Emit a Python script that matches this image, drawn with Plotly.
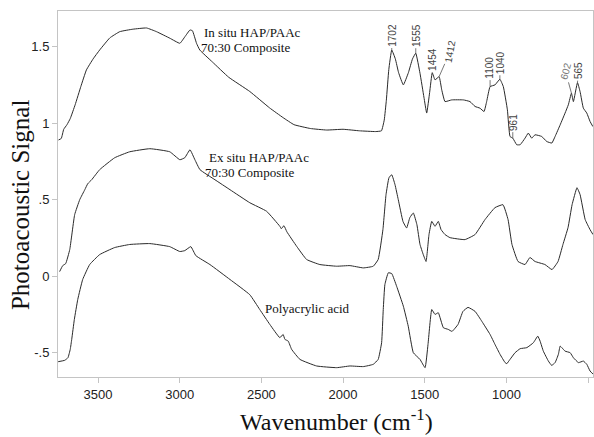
import plotly.graph_objects as go

# Photoacoustic FTIR spectra, offset vertically for clarity
wn_insitu = [3742, 3725, 3710, 3690, 3670, 3640, 3605, 3571, 3530, 3490, 3428, 3367, 3287, 3203,
             3142, 3060, 2999, 2968, 2937, 2922, 2897, 2877, 2800, 2700, 2571, 2450, 2367, 2300,
             2200, 2100, 2000, 1900, 1800, 1765, 1748, 1735, 1720, 1702, 1680, 1660, 1631, 1600,
             1575, 1555, 1529, 1505, 1488, 1470, 1454, 1437, 1412, 1396, 1376, 1335, 1264, 1223,
             1192, 1162, 1137, 1121, 1100, 1070, 1040, 1019, 994, 978, 961, 937, 916, 886, 866,
             845, 825, 784, 753, 722, 702, 671, 641, 621, 602, 590, 565, 549, 529, 508, 488, 471]
sig_insitu = [0.89, 0.90, 0.96, 0.99, 1.03, 1.12, 1.24, 1.348, 1.42, 1.478, 1.557, 1.598, 1.614, 1.622,
              1.598, 1.555, 1.522, 1.565, 1.609, 1.604, 1.522, 1.478, 1.40, 1.30, 1.207, 1.10, 1.036, 0.99,
              0.965, 0.955, 0.96, 0.95, 0.945, 0.95, 1.02, 1.15, 1.35, 1.478, 1.42, 1.33, 1.25, 1.33,
              1.42, 1.457, 1.326, 1.17, 1.066, 1.2, 1.33, 1.283, 1.304, 1.218, 1.141, 1.152, 1.152, 1.141,
              1.109, 1.098, 1.076, 1.141, 1.239, 1.250, 1.287, 1.239, 1.087, 0.913, 0.902, 0.859, 0.859, 0.902, 0.935,
              0.902, 0.924, 0.913, 0.880, 0.870, 0.913, 0.989, 1.066, 1.120, 1.196, 1.141, 1.265, 1.206, 1.098, 1.066, 1.011, 0.978]

wn_exsitu = [3735, 3716, 3698, 3673, 3643, 3612, 3581, 3563, 3539, 3490, 3398, 3306, 3183, 3061,
             2999, 2969, 2937, 2907, 2876, 2784, 2692, 2571, 2468, 2387, 2378, 2362, 2344, 2284,
             2223, 2142, 2039, 1958, 1876, 1815, 1785, 1756, 1737, 1719, 1702, 1682, 1662, 1633,
             1611, 1591, 1570, 1548, 1529, 1509, 1492, 1474, 1457, 1437, 1417, 1400, 1376, 1346,
             1254, 1192, 1131, 1070, 1021, 990, 966, 929, 886, 856, 825, 764, 721, 684, 654, 623,
             598, 568, 549, 518, 488, 470]
sig_exsitu = [0.030, 0.069, 0.082, 0.174, 0.402, 0.500, 0.565, 0.604, 0.630, 0.696, 0.774, 0.813, 0.833, 0.813,
              0.761, 0.774, 0.826, 0.761, 0.696, 0.630, 0.565, 0.480, 0.424, 0.326, 0.31, 0.33, 0.29, 0.195,
              0.109, 0.076, 0.065, 0.069, 0.054, 0.065, 0.109, 0.304, 0.533, 0.643, 0.663, 0.598, 0.500, 0.357,
              0.315, 0.383, 0.413, 0.337, 0.207, 0.141, 0.096, 0.272, 0.358, 0.326, 0.358, 0.304, 0.272, 0.252,
              0.239, 0.272, 0.370, 0.448, 0.467, 0.370, 0.207, 0.096, 0.076, 0.122, 0.096, 0.076, 0.043, 0.096, 0.207, 0.317,
              0.467, 0.578, 0.533, 0.370, 0.304, 0.272]

wn_paa = [3744, 3704, 3684, 3670, 3661, 3645, 3624, 3594, 3551, 3490, 3398, 3306, 3183, 3061,
          2999, 2969, 2932, 2901, 2815, 2692, 2571, 2510, 2448, 2387, 2367, 2356, 2336, 2315,
          2264, 2162, 2039, 1958, 1876, 1815, 1785, 1764, 1754, 1744, 1723, 1702, 1672, 1631,
          1601, 1570, 1529, 1498, 1480, 1457, 1437, 1417, 1386, 1356, 1333, 1296, 1266, 1235,
          1192, 1150, 1100, 1070, 1039, 1008, 998, 978, 947, 916, 875, 835, 808, 794, 774, 743,
          723, 702, 682, 671, 661, 641, 610, 590, 559, 529, 508, 488, 468]
sig_paa = [-0.559, -0.550, -0.533, -0.478, -0.413, -0.283, -0.152, -0.022, 0.076, 0.141, 0.187, 0.207, 0.213, 0.193,
           0.161, 0.167, 0.193, 0.134, 0.076, -0.022, -0.121, -0.218, -0.316, -0.402, -0.381, -0.413, -0.424, -0.478,
           -0.544, -0.587, -0.598, -0.587, -0.591, -0.576, -0.544, -0.435, -0.218, -0.055, 0.022, 0.017, -0.066, -0.196,
           -0.327, -0.500, -0.544, -0.598, -0.446, -0.218, -0.250, -0.239, -0.337, -0.348, -0.361, -0.315, -0.230, -0.204,
           -0.230, -0.296, -0.381, -0.446, -0.511, -0.565, -0.572, -0.544, -0.500, -0.474, -0.467, -0.435, -0.392, -0.424, -0.490, -0.555,
           -0.583, -0.565, -0.511, -0.457, -0.467, -0.490, -0.500, -0.533, -0.565, -0.555, -0.576, -0.620, -0.642]

# Band assignments marked on the in situ composite spectrum
peak_labels = ["1702", "1555", "1454", "1412", "1100", "1040", "961", "602", "565"]
peak_wn = [1702, 1555, 1454, 1412, 1100, 1040, 961, 602, 565]

x_ticks = [3500, 3000, 2500, 2000, 1500, 1000, 500]
y_ticks = [-0.5, 0, 0.5, 1, 1.5]
y_tick_text = ["-.5", "0", ".5", "1", "1.5"]

LINE = "#2a2a2a"
FRAME = "#c4c4c4"
SERIF = "Liberation Serif, Times New Roman, serif"
SANS = "Liberation Sans, Arial, sans-serif"

fig = go.Figure()
for wn, sig in [(wn_insitu, sig_insitu), (wn_exsitu, sig_exsitu), (wn_paa, sig_paa)]:
    fig.add_trace(go.Scatter(x=wn, y=sig, mode="lines",
                             line=dict(color=LINE, width=1, shape="spline", smoothing=0.35),
                             hoverinfo="skip", showlegend=False))

# label offsets (pixels) from each band to its text
label_style = {
    "1702": dict(ax=0, ay=-15, angle=-90),
    "1555": dict(ax=0, ay=-18, angle=-90),
    "1454": dict(ax=0, ay=-13, angle=-90),
    "1412": dict(ax=11, ay=-25, angle=-80),
    "1100": dict(ax=0, ay=-19, angle=-90),
    "1040": dict(ax=0, ay=-17, angle=-90),
    "961": dict(ax=0, ay=-16, angle=-90),
    "602": dict(ax=-6, ay=-22, angle=-75),
    "565": dict(ax=1, ay=-12, angle=-90),
}
for lab, w in zip(peak_labels, peak_wn):
    s = label_style[lab]
    yv = sig_insitu[wn_insitu.index(w)]
    fig.add_annotation(x=w, y=yv, xref="x", yref="y", text=lab, textangle=s["angle"],
                       showarrow=True, arrowhead=0, arrowwidth=0.8, arrowcolor="#555",
                       ax=s["ax"], ay=s["ay"], standoff=0,
                       font=dict(family=SANS, size=10, color="#444" if lab != "602" else "#777"))

# series names
for txt, xx, yy in [("In situ HAP/PAAc", 2865, 1.595), ("70:30 Composite", 2880, 1.495),
                    ("Ex situ HAP/PAAc", 2830, 0.775), ("70:30 Composite", 2860, 0.675),
                    ("Polyacrylic acid", 2490, -0.21)]:
    fig.add_annotation(x=xx, y=yy, xref="x", yref="y", text=txt, showarrow=False,
                       xanchor="left", yanchor="middle",
                       font=dict(family=SERIF, size=13, color="#111"))

# axis titles
fig.add_annotation(x=-0.069, y=0.47, xref="paper", yref="paper", text="Photoacoustic Signal",
                   textangle=-90, showarrow=False, xanchor="center", yanchor="middle",
                   font=dict(family=SERIF, size=25, color="#111"))
fig.add_annotation(x=0.52, y=-0.117, xref="paper", yref="paper",
                   text="Wavenumber (cm<sup>-1</sup>)", showarrow=False,
                   xanchor="center", yanchor="middle",
                   font=dict(family=SERIF, size=24, color="#111"))
# figure caption running off the top edge
fig.add_annotation(x=0.05, y=1, xref="paper", yref="paper",
                   text="Fig. 4. IR analysis by photoacoustic spectroscopy", showarrow=False,
                   xanchor="left", yanchor="bottom", yshift=7, borderpad=2,
                   font=dict(family=SERIF, size=26, color="#111"))

fig.update_layout(
    width=594, height=437,
    margin=dict(l=58, r=1, t=11, b=60, autoexpand=False),
    paper_bgcolor="white", plot_bgcolor="white",
    xaxis=dict(range=[3745, 470], tickvals=x_ticks, ticks="outside", ticklen=5,
               tickcolor=FRAME, showline=True, linecolor=FRAME, mirror=True, linewidth=1,
               showgrid=False, zeroline=False,
               tickfont=dict(family=SANS, size=13, color="#222")),
    yaxis=dict(range=[-0.659, 1.733], tickvals=y_ticks, ticktext=y_tick_text, ticks="outside",
               ticklen=5, tickcolor=FRAME, showline=True, linecolor=FRAME, mirror=True,
               linewidth=1, showgrid=False, zeroline=False,
               tickfont=dict(family=SANS, size=13, color="#222")),
)

fig.write_html("out.html")
